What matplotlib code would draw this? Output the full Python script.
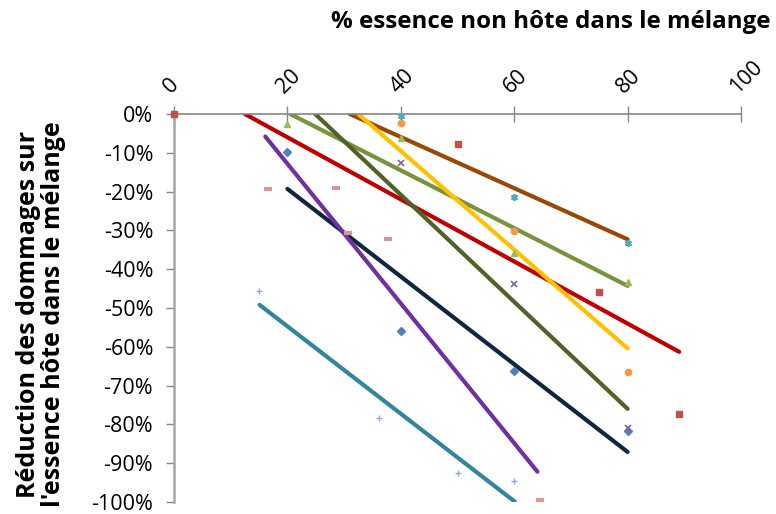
import matplotlib
matplotlib.use("Agg")
import matplotlib.pyplot as plt
import matplotlib.transforms as mtransforms
from matplotlib.ticker import FuncFormatter

# scatter series (x = % essence non hote, y = reduction des dommages in %)
diam_x = [20, 40, 60, 80]
diam_y = [-9.8, -55.8, -66.2, -81.7]
sq_x = [0, 50, 75, 89]
sq_y = [0, -7.7, -46.0, -77.3]
tri_x = [20, 40, 60, 80]
tri_y = [-2.6, -6.3, -35.9, -43.2]
cross_x = [40, 60, 80]
cross_y = [-12.6, -43.9, -81.0]
star_x = [40, 60, 80]
star_y = [-0.4, -21.5, -33.2]
circ_x = [40, 60, 80]
circ_y = [-2.3, -30.2, -66.5]
plus_x = [15, 36.2, 50, 60]
plus_y = [-45.5, -78.4, -92.4, -94.7]
dash_x = [16.6, 28.6, 30.7, 37.7, 64.6]
dash_y = [-19.3, -19.1, -30.7, -32.3, -99.5]

# trend lines: start / end
trend_names = ["navy", "red", "lgreen", "brown", "yellow", "olive", "purple", "teal"]
trend_x0 = [20, 12.5, 20.5, 31.0, 32.5, 24.9, 16.1, 15.1]
trend_y0 = [-19.3, 0, 0, 0, 0, 0, -5.8, -49.2]
trend_x1 = [80, 89.1, 80, 80, 80, 80, 64.1, 60.1]
trend_y1 = [-87.1, -61.3, -44.3, -32.3, -60.4, -76.0, -92.2, -99.9]
trend_colors = ["#10253F", "#C00000", "#77933C", "#984807", "#FFC000",
                "#4F6228", "#7030A0", "#31859C"]

xticks = [0, 20, 40, 60, 80, 100]
yticks = list(range(0, -101, -10))

plt.rcParams['font.family'] = ['Open Sans', 'DejaVu Sans']

fig = plt.figure(figsize=(7.76, 5.14), dpi=100)
ax = fig.add_axes([174/776, 1-502/514, (741-174)/776, (502-114)/514])

for i in range(len(trend_names)):
    ax.plot([trend_x0[i], trend_x1[i]], [trend_y0[i], trend_y1[i]],
            color=trend_colors[i], lw=3, solid_capstyle='round', zorder=2)

ax.plot(diam_x, diam_y, 'D', color='#4F81BD', ms=4.5, ls='none', zorder=3)
ax.plot(sq_x, sq_y, 's', color='#C0504D', ms=4.5, ls='none', zorder=3, clip_on=False)
ax.plot(tri_x, tri_y, '^', color='#9BBB59', ms=5, ls='none', zorder=3)
ax.plot(cross_x, cross_y, 'x', color='#8064A2', ms=4.5, mew=1.2, ls='none', zorder=3)
ax.plot(star_x, star_y, marker=(6, 2, 0), color='#4BACC6', ms=5, mew=1.3, ls='none', zorder=3, clip_on=False)
ax.plot(circ_x, circ_y, 'o', color='#F79646', ms=4.5, ls='none', zorder=3)
ax.plot(plus_x, plus_y, '+', color='#8EA9DB', ms=5, mew=1.0, ls='none', zorder=3)
ax.plot(dash_x, dash_y, '_', color='#D99694', ms=5.5, mew=3, ls='none', zorder=3)

ax.set_xlim(0, 100)
ax.set_ylim(-100, 0)
ax.xaxis.tick_top()
ax.set_xticks(xticks)
ax.set_xticklabels([str(v) for v in xticks], rotation=45, ha='left', va='bottom',
                   rotation_mode='anchor', fontsize=15.5)
shift = mtransforms.ScaledTranslation(10/100, 1/100, fig.dpi_scale_trans)
for lab in ax.get_xticklabels():
    lab.set_transform(lab.get_transform() + shift)
ax.set_yticks(yticks)
ax.yaxis.set_major_formatter(FuncFormatter(lambda v, p: "%d%%" % v))
ax.tick_params(axis='y', labelsize=15.5, direction='out', length=6, width=1,
               color='#868686', pad=9)
ax.tick_params(axis='x', direction='inout', length=11, width=1,
               color='#868686', pad=6)

for s in ['bottom', 'right']:
    ax.spines[s].set_visible(False)
ax.spines['top'].set_color('#868686')
ax.spines['top'].set_linewidth(1.2)
ax.spines['left'].set_color('#A6A6A6')
ax.spines['left'].set_linewidth(1.8)

fig.text(551/776, 1-22/514, "% essence non hôte dans le mélange",
         ha='center', va='center', fontsize=17.4, fontweight='bold')
fig.text(41/776, 1-314/514, "Réduction des dommages sur\nl'essence hôte dans le mélange",
         ha='center', va='center', rotation=90, fontsize=18, fontweight='bold',
         linespacing=1.0)

fig.savefig("out.png", dpi=100)
